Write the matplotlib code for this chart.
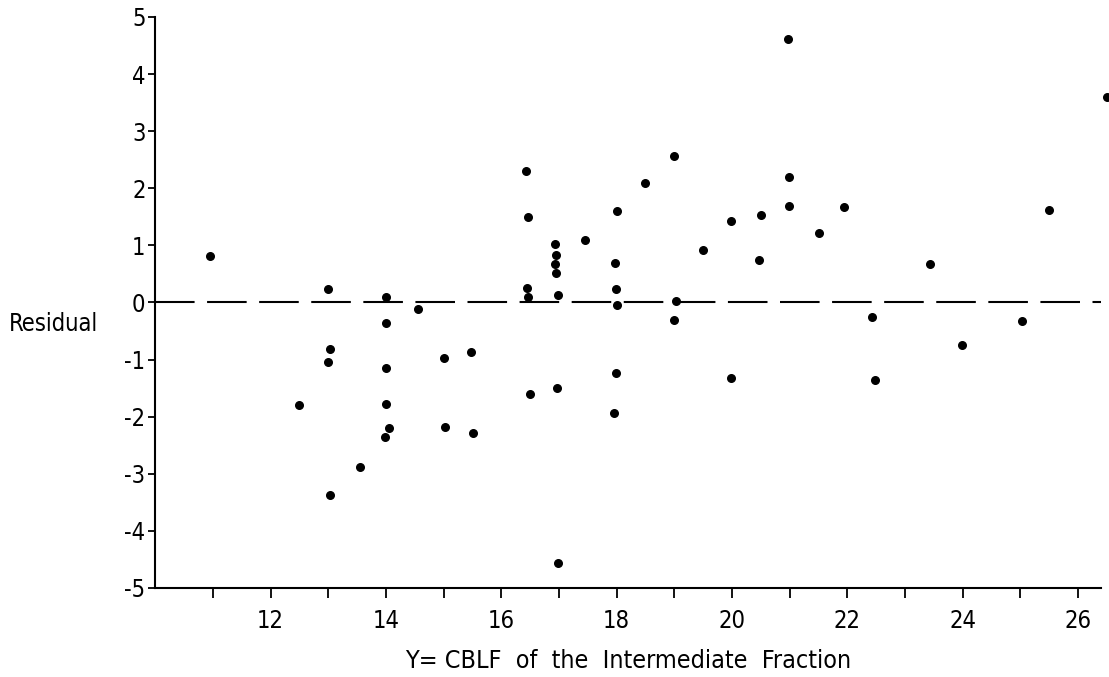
import matplotlib
matplotlib.use("Agg")
import matplotlib.pyplot as plt

# data
x_vals = [10.95, 13.0, 13.03, 13.0, 13.03, 12.5, 13.55,
          14.0, 14.0, 14.0, 14.0, 14.06, 13.98, 14.56,
          15.0, 15.03, 15.48, 15.5,
          16.43, 16.46, 16.44, 16.47, 16.5,
          16.93, 16.95, 16.93, 16.95, 16.98, 16.96, 16.99,
          17.45, 18.01, 17.97, 17.98, 18.01, 17.99, 17.96,
          18.49, 19.0, 19.02, 19.0, 19.5,
          19.98, 19.98, 20.5, 20.47,
          20.97, 20.99, 20.98, 21.5, 21.94,
          22.43, 22.48, 23.43, 23.98, 25.03, 25.5, 26.5]
residuals = [0.82, 0.24, -0.82, -1.05, -3.37, -1.8, -2.88,
             0.1, -0.36, -1.15, -1.77, -2.19, -2.36, -0.11,
             -0.98, -2.18, -0.86, -2.29,
             2.31, 1.49, 0.26, 0.09, -1.61,
             1.02, 0.83, 0.67, 0.52, 0.13, -1.49, -4.57,
             1.09, 1.6, 0.69, 0.23, -0.04, -1.23, -1.93,
             2.1, 2.56, 0.02, -0.3, 0.91,
             1.42, -1.33, 1.54, 0.74,
             4.61, 2.19, 1.69, 1.21, 1.68,
             -0.26, -1.35, 0.68, -0.74, -0.32, 1.62, 3.6]

x_ticks = list(range(11, 27))
x_labels = [str(t) if t % 2 == 0 else "" for t in x_ticks]
y_ticks = list(range(-5, 6))
y_labels = [str(t) for t in y_ticks]

plt.rcParams['font.family'] = ['DejaVu Sans']
plt.rcParams['font.stretch'] = 'condensed'

fig = plt.figure(figsize=(11.09, 6.77), dpi=100)
ax = fig.add_axes([0.14, 0.1315, 0.853, 0.8435])

ax.axhline(0, color="black", linewidth=1.5, dashes=(19, 6))
ax.scatter(x_vals, residuals, s=30, color="black", zorder=3, clip_on=False)

ax.set_xlim(10, 26.4)
ax.set_ylim(-5, 5)

for side in ["top", "right"]:
    ax.spines[side].set_visible(False)
for side in ["left", "bottom"]:
    ax.spines[side].set_linewidth(1.5)

ax.set_xticks(x_ticks)
ax.set_xticklabels(x_labels, fontsize=17)
ax.set_yticks(y_ticks)
ax.set_yticklabels(y_labels, fontsize=17)
ax.tick_params(axis="x", direction="out", length=7, width=1.3, pad=8)
ax.tick_params(axis="y", direction="out", length=5, width=1.3, pad=2)

ax.set_xlabel("Y= CBLF  of  the  Intermediate  Fraction", fontsize=18, labelpad=12)
ax.text(-0.155, 0.462, "Residual", fontsize=17, transform=ax.transAxes,
        ha="left", va="center")

fig.savefig("out.png", dpi=100)
